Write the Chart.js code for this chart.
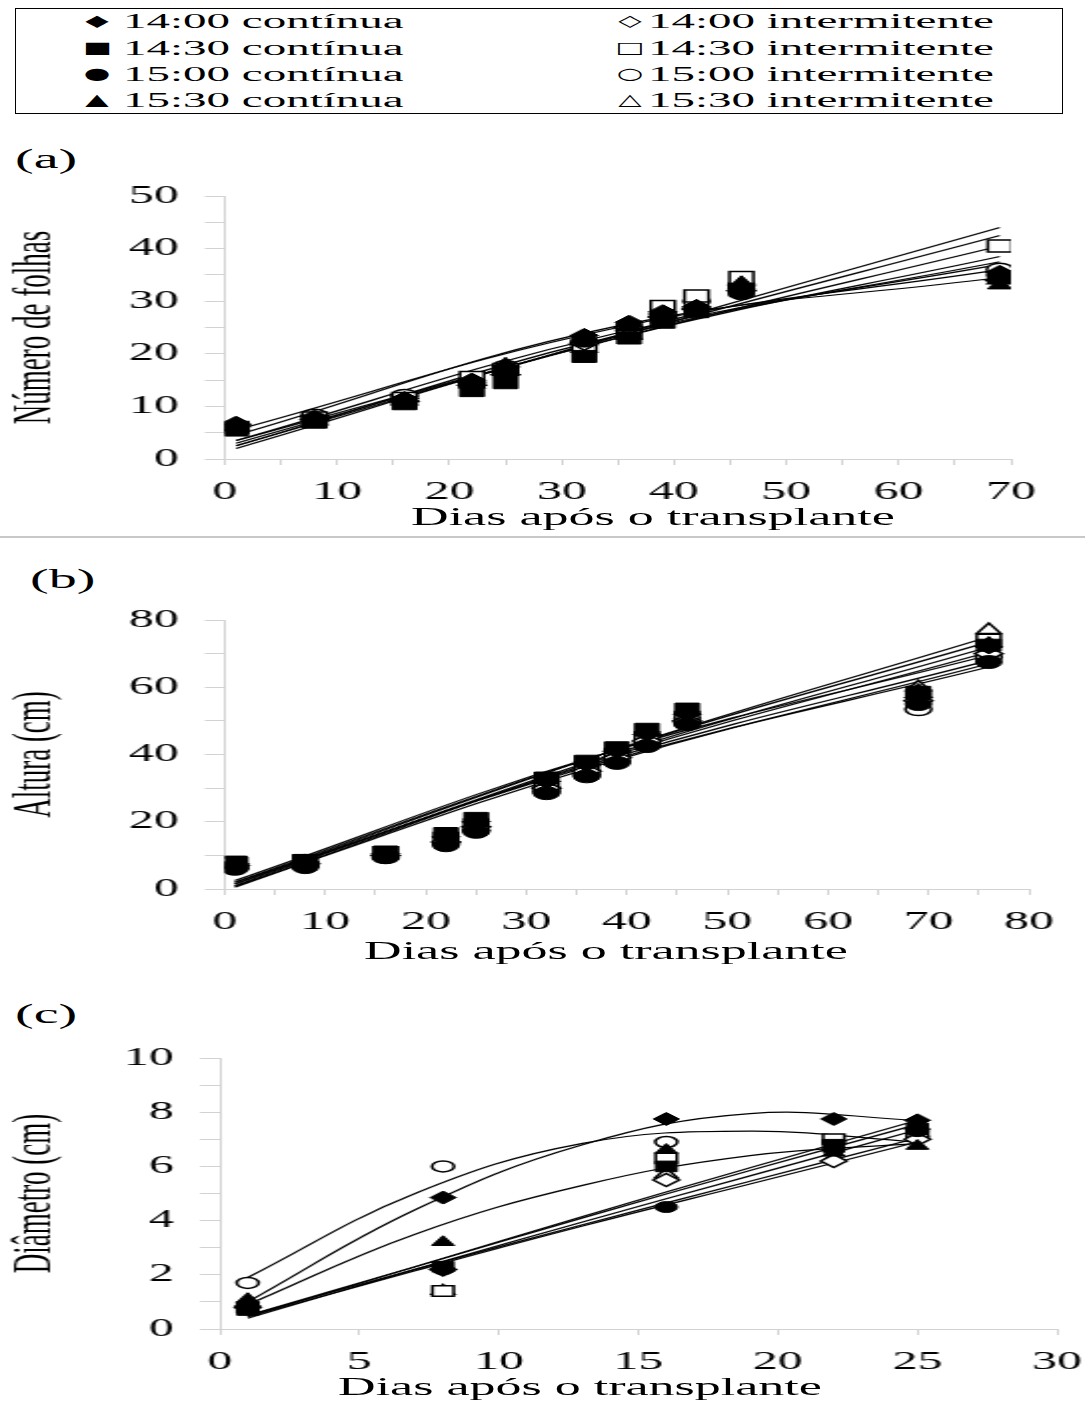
<!DOCTYPE html>
<html>
<head>
<meta charset="utf-8">
<script src="https://cdn.jsdelivr.net/npm/chart.js@4.4.1/dist/chart.umd.min.js"></script>
<style>
  body { margin: 0; width: 1085px; height: 1402px; position: relative; overflow: hidden; background: #fff; color: #000; font-family: 'Liberation Serif', 'Times New Roman', serif; }
  .panel { position: absolute; left: 0; width: 543px; transform-origin: 0 0; transform: scaleX(1.998); }
  .panel canvas { display: block; }
  .txt { position: absolute; white-space: nowrap; line-height: 1; }
  .stretch { transform-origin: 0 50%; transform: scaleX(2); }
  .centered { transform-origin: 50% 50%; transform: translateX(-50%) scaleX(2); }
  .legend-box { position: absolute; left: 15px; top: 8px; width: 1048px; height: 106px; border: 1.5px solid #000; box-sizing: border-box; }
  .leg-text { font-size: 20px; transform-origin: 0 50%; transform: scaleX(2.35); }
  .leg-mark { font-family: 'DejaVu Sans', sans-serif; font-size: 16px; transform-origin: 50% 50%; transform: translate(-50%, -50%) scaleX(1.9); }
  .sep { position: absolute; left: 0; top: 536px; width: 1085px; height: 2px; background: #c8c8c8; }
</style>
</head>
<body>
<div class="legend-box"></div>
<div id="legend"></div>

<div class="txt stretch" style="left:15px; top:145px; font-size:28px;">(a)</div>
<div class="panel" style="top:140px;"><canvas id="chartA" width="543" height="397"></canvas></div>
<div class="txt centered" style="left:653px; top:504px; font-size:26px;">Dias após o transplante</div>
<div class="sep"></div>

<div class="txt stretch" style="left:30px; top:565px; font-size:28px;">(b)</div>
<div class="panel" style="top:540px;"><canvas id="chartB" width="543" height="430"></canvas></div>
<div class="txt centered" style="left:606px; top:938px; font-size:26px;">Dias após o transplante</div>

<div class="txt stretch" style="left:15px; top:1000px; font-size:28px;">(c)</div>
<div class="panel" style="top:970px;"><canvas id="chartC" width="543" height="432"></canvas></div>
<div class="txt centered" style="left:580px; top:1374px; font-size:26px;">Dias após o transplante</div>

<script>
/******************** SERIES ******************/
const seriesNames = [
  '14:00 contínua', '14:00 intermitente',
  '14:30 contínua', '14:30 intermitente',
  '15:00 contínua', '15:00 intermitente',
  '15:30 contínua', '15:30 intermitente'
];
const legendSymbols = ['◆', '◇', '■', '□', '●', '○', '▲', '△'];

/******************** (a) NUMERO DE FOLHAS ******************/
const daysA = [1, 8, 16, 22, 25, 32, 36, 39, 42, 46, 69];
const leavesA = [
  [6.8, 8.0, 11.5, 15.0, 17.5, 23.5, 26.0, 28.0, 29.0, 32.5, 35.5],
  [6.5, 7.5, 11.0, 14.0, 16.0, 22.0, 25.0, 27.0, 28.5, 32.0, 34.0],
  [5.5, 7.0, 10.5, 13.0, 14.5, 19.5, 23.0, 26.0, 28.0, 32.0, 34.5],
  [6.0, 7.8, 11.5, 15.5, 17.0, 21.5, 24.0, 29.0, 31.0, 34.5, 40.5],
  [6.0, 7.5, 11.0, 14.0, 16.5, 22.5, 25.5, 27.0, 28.5, 31.5, 35.0],
  [6.2, 8.2, 12.0, 14.5, 17.5, 22.0, 24.5, 27.5, 30.0, 33.0, 36.0],
  [6.0, 7.8, 11.2, 14.5, 18.0, 23.0, 25.0, 26.5, 29.0, 33.5, 33.0],
  [6.3, 7.2, 11.0, 14.2, 16.8, 21.0, 23.5, 27.0, 29.5, 33.0, 34.0]
];
const trendDaysA = [1, 35, 69];
const trendA = [
  [2.5, 23.5, 44.0],
  [3.0, 23.3, 42.5],
  [3.5, 23.0, 40.5],
  [2.0, 23.0, 38.5],
  [2.5, 23.5, 37.5],
  [3.5, 24.0, 37.0],
  [5.5, 25.0, 36.0],
  [4.5, 25.3, 34.5]
];
const xLabelsA = [0, 10, 20, 30, 40, 50, 60, 70];
const yLabelsA = [0, 10, 20, 30, 40, 50];

/******************** (b) ALTURA ******************/
const daysB = [1, 8, 16, 22, 25, 32, 36, 39, 42, 46, 69, 76];
const heightB = [
  [7.5, 8.0, 10.5, 15.5, 20.0, 32.0, 37.0, 41.0, 46.0, 52.0, 57.0, 72.0],
  [7.0, 7.5, 10.0, 14.0, 18.5, 30.0, 35.0, 39.0, 44.0, 50.0, 56.0, 70.0],
  [8.0, 8.5, 11.0, 16.5, 21.0, 33.0, 38.0, 42.0, 47.5, 53.5, 58.5, 72.5],
  [7.5, 8.3, 10.8, 15.0, 19.0, 31.0, 36.0, 40.0, 45.0, 51.0, 57.5, 74.0],
  [6.0, 6.5, 9.5, 13.0, 17.0, 28.5, 33.5, 37.5, 42.5, 49.0, 55.0, 67.5],
  [6.5, 7.0, 9.5, 13.5, 17.5, 29.0, 34.0, 38.0, 43.0, 49.5, 53.5, 69.0],
  [7.0, 7.8, 10.0, 14.5, 19.5, 32.5, 37.5, 41.5, 47.0, 53.0, 59.0, 73.0],
  [7.2, 8.0, 10.3, 15.2, 18.5, 31.5, 36.5, 40.5, 45.5, 52.0, 60.0, 77.0]
];
const trendDaysB = [1, 38, 76];
const trendB = [
  [1.5, 40.5, 75.0],
  [2.0, 40.5, 73.5],
  [1.0, 39.5, 72.0],
  [0.5, 39.0, 70.5],
  [2.5, 40.5, 69.5],
  [1.5, 38.5, 68.0],
  [0.8, 37.5, 67.0],
  [2.0, 38.0, 66.0]
];
const xLabelsB = [0, 10, 20, 30, 40, 50, 60, 70, 80];
const yLabelsB = [0, 20, 40, 60, 80];

/******************** (c) DIAMETRO ******************/
const daysC = [1, 8, 16, 22, 25];
const diameterC = [
  [0.85, 4.85, 7.75, 7.75, 7.70],
  [0.80, 2.20, 5.50, 6.20, 7.00],
  [0.70, 2.30, 6.00, 6.80, 7.40],
  [0.80, 1.40, 6.30, 7.00, 7.20],
  [0.85, 2.20, 4.50, 6.60, 7.30],
  [1.70, 6.00, 6.90, 6.90, 7.10],
  [1.10, 3.20, 6.60, 6.50, 6.75],
  [0.90, 1.40, 5.70, 6.30, 7.50]
];
const trendDaysC = [1, 7, 13, 19, 25];
const trendC = [
  [1.00, 4.40, 6.80, 7.95, 7.70],
  [1.90, 5.00, 6.85, 7.30, 6.90],
  [0.90, 3.50, 5.30, 6.40, 6.85],
  [0.45, 2.30, 4.15, 5.95, 7.70],
  [0.50, 2.30, 4.10, 5.85, 7.55],
  [0.40, 2.20, 3.95, 5.65, 7.35],
  [0.50, 2.20, 3.85, 5.45, 7.05],
  [0.45, 2.15, 3.80, 5.35, 6.90]
];
const xLabelsC = [0, 5, 10, 15, 20, 25, 30];
const yLabelsC = [0, 2, 4, 6, 8, 10];

/******************** STYLE ******************/
const FONT = "'Liberation Serif', 'Times New Roman', serif";
const AXIS_GRAY = '#d2d2d2';
const markerStyles = ['rectRot', 'rectRot', 'rect', 'rect', 'circle', 'circle', 'triangle', 'triangle'];
const markerFilled = [true, false, true, false, true, false, true, false];

Chart.defaults.font.family = FONT;
Chart.defaults.color = '#000';

/******************** INIT ******************/
document.addEventListener('DOMContentLoaded', () => {
  renderLegend();

  makePanel('chartA', {
    days: daysA, values: leavesA, trendDays: trendDaysA, trend: trendA,
    xLabels: xLabelsA, yLabels: yLabelsA, xStep: 5, yStep: 5,
    yTitle: 'Número de folhas', sizes: { rectRot: 7, rect: 8.5, circle: 6.5, triangle: 7 },
    padTop: 56, padRight: 37, yWidth: 112.5, xHeight: 78
  });

  makePanel('chartB', {
    days: daysB, values: heightB, trendDays: trendDaysB, trend: trendB,
    xLabels: xLabelsB, yLabels: yLabelsB, xStep: 5, yStep: 10,
    yTitle: 'Altura (cm)', sizes: { rectRot: 7, rect: 8.5, circle: 6.5, triangle: 7 },
    padTop: 80, padRight: 28, yWidth: 112.5, xHeight: 81
  });

  makePanel('chartC', {
    days: daysC, values: diameterC, trendDays: trendDaysC, trend: trendC,
    xLabels: xLabelsC, yLabels: yLabelsC, xStep: 5, yStep: 1,
    yTitle: 'Diâmetro (cm)', sizes: { rectRot: 6.5, rect: 7.5, circle: 5.5, triangle: 6.5 },
    padTop: 88, padRight: 14, yWidth: 110, xHeight: 73
  });
});

/******************** LEGEND ******************/
function renderLegend() {
  const box = document.getElementById('legend');
  const rowsY = [21, 48, 74, 100];
  const cols = [{ mark: 97, text: 123 }, { mark: 630, text: 648 }];

  seriesNames.forEach((name, i) => {
    const col = cols[i % 2];
    const y = rowsY[Math.floor(i / 2)];
    box.insertAdjacentHTML('beforeend', `
      <div class="txt leg-mark" style="left:${col.mark}px; top:${y}px;">${legendSymbols[i]}</div>
      <div class="txt leg-text" style="left:${col.text}px; top:${y - 10}px;">${name}</div>`);
  });
}

/******************** PANELS ******************/
function makePanel(id, cfg) {
  const ctx = document.getElementById(id);

  // filled markers on top, open markers below them, trend lines at the back
  const markerSets = cfg.values.map((vals, i) => ({
    data: cfg.days.map((d, j) => ({ x: d, y: vals[j] })),
    pointStyle: markerStyles[i],
    pointRadius: cfg.sizes[markerStyles[i]],
    backgroundColor: markerFilled[i] ? '#000' : '#fff',
    borderColor: '#000',
    borderWidth: markerFilled[i] ? 1 : 1.5,
    showLine: false,
    order: markerFilled[i] ? 0 : 1
  }));

  const trendSets = cfg.trend.map(vals => ({
    data: cfg.trendDays.map((d, j) => ({ x: d, y: vals[j] })),
    showLine: true,
    pointRadius: 0,
    borderColor: '#000',
    borderWidth: 1.2,
    tension: 0.4,
    fill: false,
    order: 2
  }));

  const xl = cfg.xLabels, yl = cfg.yLabels;

  new Chart(ctx, {
    type: 'scatter',
    data: { datasets: markerSets.concat(trendSets) },
    options: {
      responsive: false,
      animation: false,
      devicePixelRatio: 1,
      layout: { padding: { top: cfg.padTop, right: cfg.padRight, left: 0, bottom: 0 } },
      plugins: { legend: { display: false }, tooltip: { enabled: false } },
      scales: {
        x: {
          type: 'linear',
          min: xl[0], max: xl[xl.length - 1],
          afterFit: axis => {
            axis.height = cfg.xHeight;
            axis.paddingLeft = 0;
            axis.paddingRight = 0;
          },
          ticks: {
            stepSize: cfg.xStep, autoSkip: false, maxRotation: 0, padding: 12,
            font: { size: 25 }, color: '#000',
            callback: v => xl.includes(v) ? v : ''
          },
          grid: { drawOnChartArea: false, drawTicks: true, tickLength: 6, color: AXIS_GRAY },
          border: { display: true, color: AXIS_GRAY, width: 1 }
        },
        y: {
          type: 'linear',
          min: yl[0], max: yl[yl.length - 1],
          afterFit: axis => { axis.width = cfg.yWidth; },
          ticks: {
            stepSize: cfg.yStep, autoSkip: false, padding: 13,
            font: { size: 25 }, color: '#000',
            callback: v => yl.includes(v) ? v : ''
          },
          grid: { drawOnChartArea: false, drawTicks: true, tickLength: 10, color: AXIS_GRAY },
          border: { display: true, color: AXIS_GRAY, width: 1 },
          title: {
            display: true, text: cfg.yTitle,
            font: { size: 27 }, color: '#000', padding: { top: 2, bottom: 0 }
          }
        }
      }
    }
  });
}
</script>
</body>
</html>
